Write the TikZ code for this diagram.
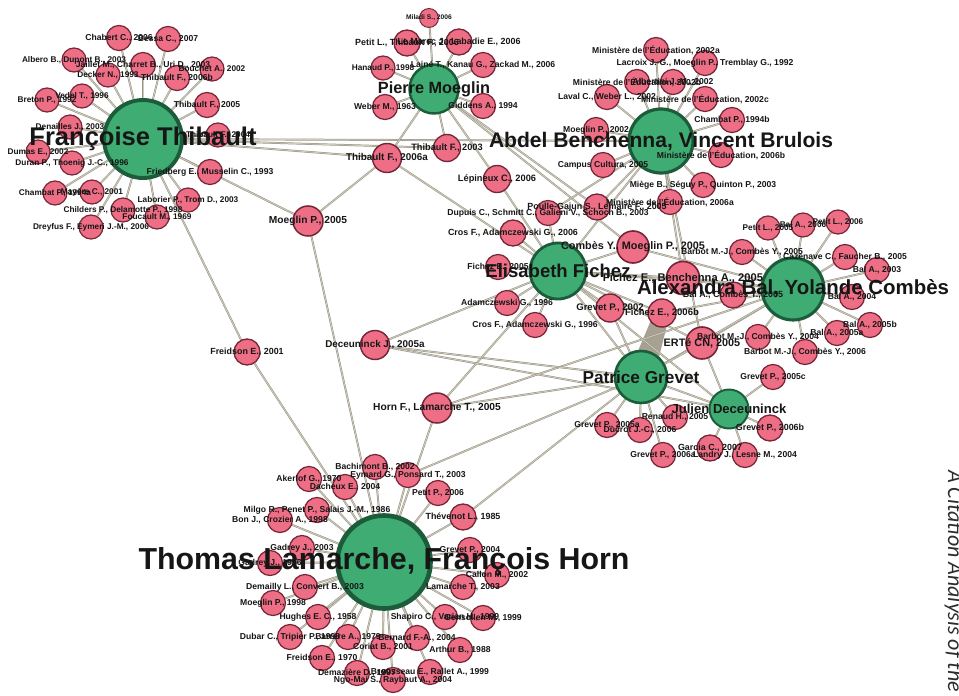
\documentclass[tikz,border=0pt]{standalone}
\usepackage{fontspec}
\setmainfont{Liberation Sans}
\newfontfamily\sidefont{Carlito}

\definecolor{pinkfill}{RGB}{238,110,134}
\definecolor{pinkline}{RGB}{118,38,55}
\definecolor{hubfill}{RGB}{62,172,115}
\definecolor{hubline}{RGB}{28,92,58}
\definecolor{edgecore}{RGB}{206,202,188}
\definecolor{edgerim}{RGB}{150,146,130}
\definecolor{bandgray}{RGB}{166,161,146}
\definecolor{labelink}{RGB}{22,22,22}
\definecolor{sideink}{RGB}{45,45,45}

\pgfdeclarelayer{wires}
\pgfsetlayers{wires,main}

\tikzset{
  disc/.style={circle, inner sep=0pt, outer sep=0pt},
  ref/.style={disc, fill=pinkfill, draw=pinkline},
  hub/.style={disc, fill=hubfill, draw=hubline},
  wire/.style={draw=edgecore, line width=0.9pt,
               preaction={draw=edgerim, line width=1.9pt}},
  tag/.style={inner sep=0pt, text=labelink, align=center},
}

% #1 style, #2 name, #3 x, #4 y, #5 radius, #6 label
\newcommand\placedisc[6]{%
  \node[#1, minimum size=2*#5pt, line width=0.1*#5pt] (#2) at (#3,#4) {};}
\newcommand\placetag[6]{%
  \pgfmathsetmacro\tagsize{0.64*#5+0.6}%
  \node[tag, font=\bfseries\fontsize{\tagsize pt}{\tagsize pt}\selectfont] (#2-t) at (#2) {#6};}

\newcommand\paperdiscs{%
  % around Francoise Thibault
  \netnode{ref}{f1}{119}{38}{12.5}{Chabert C., 2006}
  \netnode{ref}{f2}{168}{39}{12.5}{Bessa C., 2007}
  \netnode{ref}{f3}{74}{60}{12}{Albero B., Dupont B., 2003}
  \netnode{ref}{f4}{143}{65}{12.5}{Jaillet M., Charret B., Uri D., 2003}
  \netnode{ref}{f5}{212}{69}{12}{Bouchet A., 2002}
  \netnode{ref}{f6}{108}{75}{12}{Decker N., 1993}
  \netnode{ref}{f7}{177}{78}{12.5}{Thibault F., 2006b}
  \netnode{ref}{f8}{47}{100}{12}{Breton P., 1992}
  \netnode{ref}{f9}{82}{96}{12}{Vedel T., 1996}
  \netnode{ref}{f10}{207}{105}{12.5}{Thibault F., 2005}
  \netnode{ref}{f11}{70}{127}{12}{Denailles J., 2003}
  \netnode{ref}{f12}{218}{135}{12}{Thibault F., 2004}
  \netnode{ref}{f13}{38}{152}{12}{Dumas E., 2002}
  \netnode{ref}{f14}{72}{163}{12}{Duran P., Thoenig J.-C., 1996}
  \netnode{ref}{f15}{210}{172}{12.5}{Friedberg E., Musselin C., 1993}
  \netnode{ref}{f16}{55}{193}{12}{Chambat P., 1994a}
  \netnode{ref}{f17}{92}{192}{12}{Mayère C., 2001}
  \netnode{ref}{f18}{188}{200}{12}{Laborier P., Trom D., 2003}
  \netnode{ref}{f19}{123}{210}{12}{Childers P., Delamotte P., 1998}
  \netnode{ref}{f20}{157}{217}{12}{Foucault M., 1969}
  \netnode{ref}{f21}{91}{227}{12}{Dreyfus F., Eymeri J.-M., 2006}
  % around Pierre Moeglin
  \netnode{ref}{p1}{429}{18}{9.5}{Miladi S., 2006}
  \netnode{ref}{p2}{407}{43}{13}{Petit L., Thibault F., 2006}
  \netnode{ref}{p3}{459}{42}{13}{Le Marec J., Labadie E., 2006}
  \netnode{ref}{p4}{383}{68}{12}{Hanaud P., 1998}
  \netnode{ref}{p5}{483}{65}{12.5}{Lainé T., Kanau G., Zackad M., 2006}
  \netnode{ref}{p6}{385}{107}{12.5}{Weber M., 1963}
  \netnode{ref}{p7}{483}{106}{12.5}{Giddens A., 1994}
  \netnode{ref}{p8}{447}{148}{13.5}{Thibault F., 2003}
  \netnode{ref}{p9}{387}{158}{14.5}{Thibault F., 2006a}
  \netnode{ref}{p10}{497}{179}{13.5}{Lépineux C., 2006}
  \netnode{ref}{mp}{308}{221}{15}{Moeglin P., 2005}
  \netnode{ref}{fr}{247}{352}{13}{Freidson E., 2001}
  \netnode{ref}{dj}{375}{345}{14.5}{Deceuninck J., 2005a}
  \netnode{ref}{hl}{437}{408}{15}{Horn F., Lamarche T., 2005}
  % around Abdel Benchenna, Vincent Brulois
  \netnode{ref}{b1}{656}{50}{12.5}{Ministère de l'Éducation, 2002a}
  \netnode{ref}{b2}{705}{63}{12.5}{Lacroix J.-G., Moeglin P., Tremblay G., 1992}
  \netnode{ref}{b3}{637}{82}{12.5}{Ministère de l'Éducation, 2002b}
  \netnode{ref}{b4}{673}{82}{12.5}{Albertini J.-M., 2002}
  \netnode{ref}{b5}{607}{97}{12.5}{Laval C., Weber L., 2002}
  \netnode{ref}{b6}{705}{99}{12.5}{Ministère de l'Éducation, 2002c}
  \netnode{ref}{b7}{732}{120}{12.5}{Chambat P., 1994b}
  \netnode{ref}{b8}{596}{130}{12.5}{Moeglin P., 2002}
  \netnode{ref}{b9}{721}{155}{12.5}{Ministère de l'Éducation, 2006b}
  \netnode{ref}{b10}{603}{165}{12.5}{Campus Cultura, 2005}
  \netnode{ref}{b11}{703}{185}{12.5}{Miège B., Séguy P., Quinton P., 2003}
  \netnode{ref}{b12}{670}{202}{12.5}{Ministère de l'Éducation, 2006a}
  % around Elisabeth Fichez
  \netnode{ref}{e1}{548}{213}{12.5}{Dupuis C., Schmitt C., Galieni V., Schoch B., 2003}
  \netnode{ref}{e2}{597}{207}{13}{Poulle-Gajun S., Lemaire F., 2005}
  \netnode{ref}{e3}{513}{233}{13}{Cros F., Adamczewski G., 2006}
  \netnode{ref}{e4}{498}{267}{12.5}{Fichez E., 2005}
  \netnode{ref}{e5}{507}{303}{12.5}{Adamczewski G., 1996}
  \netnode{ref}{e6}{535}{325}{12.5}{Cros F., Adamczewski G., 1996}
  \netnode{ref}{e7}{610}{308}{14}{Grevet P., 2002}
  \netnode{ref}{cm}{633}{247}{16}{Combès Y., Moeglin P., 2005}
  \netnode{ref}{fb}{683}{278}{16.5}{Fichez E., Benchenna A., 2005}
  \netnode{ref}{fe}{662}{313}{14}{Fichez E., 2006b}
  % around Alexandra Bal, Yolande Combes
  \netnode{ref}{y1}{768}{228}{12}{Petit L., 2005}
  \netnode{ref}{y2}{803}{225}{12}{Bal A., 2006}
  \netnode{ref}{y3}{838}{222}{12}{Petit L., 2006}
  \netnode{ref}{y4}{742}{252}{12.5}{Barbot M.-J., Combès Y., 2005}
  \netnode{ref}{y5}{845}{257}{12.5}{Cazenave C., Faucher B., 2005}
  \netnode{ref}{y6}{877}{270}{12.5}{Bal A., 2003}
  \netnode{ref}{y7}{852}{297}{12.5}{Bal A., 2004}
  \netnode{ref}{y8}{733}{295}{13}{Bal A., Combès Y., 2005}
  \netnode{ref}{y9}{870}{325}{12.5}{Bal A., 2005b}
  \netnode{ref}{y10}{837}{333}{12.5}{Bal A., 2005a}
  \netnode{ref}{y11}{758}{337}{12.5}{Barbot M.-J., Combès Y., 2004}
  \netnode{ref}{er}{702}{343}{16}{ERTé CN, 2005}
  \netnode{ref}{y12}{805}{352}{12.5}{Barbot M.-J., Combès Y., 2006}
  \netnode{ref}{y13}{773}{377}{12.5}{Grevet P., 2005c}
  % around Patrice Grevet and Julien Deceuninck
  \netnode{ref}{g1}{607}{425}{12.5}{Grevet P., 2005a}
  \netnode{ref}{g2}{640}{430}{12.5}{Ducrot J.-C., 2006}
  \netnode{ref}{g3}{675}{417}{12.5}{Renaud H., 2005}
  \netnode{ref}{g4}{663}{455}{12.5}{Grevet P., 2006a}
  \netnode{ref}{j1}{710}{448}{13}{Garcia C., 2007}
  \netnode{ref}{j2}{745}{455}{12.5}{Landry J., Lesne M., 2004}
  \netnode{ref}{j3}{770}{428}{13}{Grevet P., 2006b}
  % around Thomas Lamarche, Francois Horn
  \netnode{ref}{l1}{309}{479}{12.5}{Akerlof G., 1970}
  \netnode{ref}{l2}{345}{487}{12.5}{Dacheux E., 2004}
  \netnode{ref}{l3}{375}{467}{12.5}{Bachimont B., 2002}
  \netnode{ref}{l4}{408}{475}{12.5}{Eymard G., Ponsard T., 2003}
  \netnode{ref}{l5}{438}{493}{12.5}{Petit P., 2006}
  \netnode{ref}{l6}{463}{517}{13}{Thévenot L., 1985}
  \netnode{ref}{l7}{317}{510}{12.5}{Milgo R., Penet P., Salais J.-M., 1986}
  \netnode{ref}{l8}{280}{520}{12.5}{Bon J., Crozier A., 1998}
  \netnode{ref}{l9}{302}{548}{12.5}{Gadrey J., 2003}
  \netnode{ref}{l10}{270}{563}{12.5}{Gadrey J., 1996}
  \netnode{ref}{l11}{470}{550}{12.5}{Grevet P., 2004}
  \netnode{ref}{l12}{497}{575}{12.5}{Callon M., 2002}
  \netnode{ref}{l13}{463}{587}{12.5}{Lamarche T., 2003}
  \netnode{ref}{l14}{305}{587}{12.5}{Demailly L., Convert B., 2003}
  \netnode{ref}{l15}{273}{603}{12.5}{Moeglin P., 1998}
  \netnode{ref}{l16}{318}{617}{12.5}{Hughes E. C., 1958}
  \netnode{ref}{l17}{445}{617}{12.5}{Shapiro C., Varian H., 1999}
  \netnode{ref}{l18}{483}{618}{12.5}{Gensollen M., 1999}
  \netnode{ref}{l19}{290}{637}{12.5}{Dubar C., Tripier P., 1998}
  \netnode{ref}{l20}{348}{637}{12.5}{Barrère A., 1979}
  \netnode{ref}{l21}{383}{647}{12.5}{Coriat B., 2001}
  \netnode{ref}{l22}{417}{638}{12.5}{Bernard F.-A., 2004}
  \netnode{ref}{l23}{460}{650}{12.5}{Arthur B., 1988}
  \netnode{ref}{l24}{322}{658}{12.5}{Freidson E., 1970}
  \netnode{ref}{l25}{357}{673}{12.5}{Demazière D., 1997}
  \netnode{ref}{l26}{393}{680}{12.5}{Ngo-Mai S., Raybaut A., 2004}
  \netnode{ref}{l27}{430}{672}{12.5}{Brousseau E., Rallet A., 1999}
}

\newcommand\authordiscs{%
  \netnode{hub}{ft}{143}{139}{39}{Françoise Thibault}
  \netnode{hub}{pm}{434}{89}{24.5}{Pierre Moeglin}
  \netnode{hub}{ab}{661}{141}{32}{Abdel Benchenna, Vincent Brulois}
  \netnode{hub}{ef}{558}{271}{28}{Elisabeth Fichez}
  \netnode{hub}{ay}{793}{289}{31}{Alexandra Bal, Yolande Combès}
  \netnode{hub}{pg}{641}{377}{26}{Patrice Grevet}
  \netnode{hub}{jd}{729}{409}{19.5}{Julien Deceuninck}
  \netnode{hub}{tl}{384}{562}{46.5}{Thomas Lamarche, François Horn}
}

\begin{document}
\begin{tikzpicture}[x=1pt, y=-1pt]
  \useasboundingbox (0,0) rectangle (959,696);

  % discs
  \let\netnode\placedisc
  \paperdiscs
  \authordiscs

  \begin{pgfonlayer}{wires}
    \fill[white] (0,0) rectangle (959,696);
    % heavy link
    \fill[bandgray] ([xshift=-14pt]pg.center) -- ([xshift=13pt]pg.center)
      -- ([xshift=8pt]fe.center) -- ([xshift=-8pt]fe.center) -- cycle;
    % citation links
    \foreach \i in {1,...,21} \draw[wire] (ft) -- (f\i);
    \foreach \t in {p8,p9,mp,fr,ab} \draw[wire] (ft) -- (\t);
    \foreach \i in {1,...,10} \draw[wire] (pm) -- (p\i);
    \foreach \t in {e2,cm} \draw[wire] (pm) -- (\t);
    \foreach \t in {p9,tl} \draw[wire] (mp) -- (\t);
    \draw[wire] (p9) -- (ef);
    \draw[wire] (p10) -- (ef);
    \foreach \i in {1,...,12} \draw[wire] (ab) -- (b\i);
    \foreach \t in {e1,e2,ef,fb,er} \draw[wire] (ab) -- (\t);
    \foreach \t in {e1,e3,e4,e5,e6,e7,cm,fb,fe,ay,pg,dj,hl,er,jd} \draw[wire] (ef) -- (\t);
    \foreach \i in {1,...,12} \draw[wire] (ay) -- (y\i);
    \foreach \t in {cm,fb,fe,er,pg,hl} \draw[wire] (ay) -- (\t);
    \foreach \i in {1,...,4} \draw[wire] (pg) -- (g\i);
    \foreach \t in {e7,er,dj,hl,jd,l4,l6} \draw[wire] (pg) -- (\t);
    \foreach \t in {j1,j2,j3,y13,er,dj} \draw[wire] (jd) -- (\t);
    \foreach \i in {1,...,27} \draw[wire] (tl) -- (l\i);
    \foreach \t in {hl,fr} \draw[wire] (tl) -- (\t);
  \end{pgfonlayer}

  % labels on top
  \let\netnode\placetag
  \paperdiscs
  \authordiscs

  \node[rotate=-90, anchor=base west, inner sep=0pt, text=sideink,
        font=\sidefont\itshape\fontsize{22pt}{22pt}\selectfont]
    (sidecaption) at (948,470) {A Citation Analysis of the};
\end{tikzpicture}
\end{document}
